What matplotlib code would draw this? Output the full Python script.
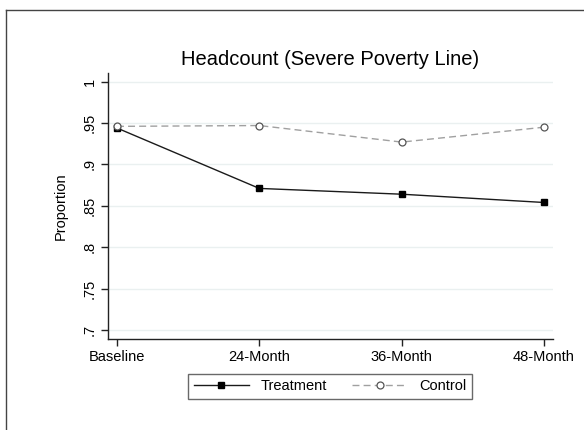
import matplotlib
matplotlib.use("Agg")
import matplotlib.pyplot as plt
from matplotlib.lines import Line2D

plt.rcParams['font.family'] = ['Liberation Sans', 'DejaVu Sans']

categories = ["Baseline", "24-Month", "36-Month", "48-Month"]
treatment = [0.944, 0.871, 0.864, 0.854]
control = [0.946, 0.947, 0.927, 0.945]
yticks = [0.7, 0.75, 0.8, 0.85, 0.9, 0.95, 1.0]
ytick_labels = [".7", ".75", ".8", ".85", ".9", ".95", "1"]
title = "Headcount (Severe Poverty Line)"

fig = plt.figure(figsize=(5.84, 4.30), dpi=100)
ax = fig.add_axes([108/584, 1-339/430, (553-108)/584, (339-73)/430])

x = list(range(len(categories)))
ax.plot(x, treatment, color='#1a1a1a', lw=1.0, marker='s', ms=5,
        mfc='black', mec='black', label='Treatment', zorder=3)
ax.plot(x, control, color='#a0a0a0', lw=1.0, ls=(0, (5, 3)), marker='o', ms=5,
        mfc='white', mec='#555555', mew=0.9, label='Control', zorder=3)

ax.set_xlim(-0.063, 3.063)
ax.set_ylim(0.689, 1.0105)
ax.set_xticks(x)
ax.set_xticklabels(categories, fontsize=10.5)
ax.set_yticks(yticks)
ax.set_yticklabels(ytick_labels, fontsize=10.5, rotation=90, va='center')
ax.set_ylabel("Proportion", fontsize=10.5, labelpad=11)
ax.set_title(title, fontsize=14.5, pad=6)

ax.grid(axis='y', color='#eaf0f0', lw=1.0)
ax.set_axisbelow(True)
for s in ['top', 'right']:
    ax.spines[s].set_visible(False)
for s in ['left', 'bottom']:
    ax.spines[s].set_color('#222222')
    ax.spines[s].set_linewidth(1.0)
ax.tick_params(direction='out', length=5, width=1, color='#222222', pad=3)

leg = fig.legend(loc='center', bbox_to_anchor=(330/584, 1-386.5/430), ncol=2,
                 fontsize=10.5, frameon=True, fancybox=False, handlelength=3.8,
                 columnspacing=1.7, borderpad=0.4, handletextpad=0.8)
leg.get_frame().set_edgecolor('#444444')
leg.get_frame().set_linewidth(1.0)

# outer frame lines (left and top)
fig.add_artist(Line2D([6/584, 6/584], [0, 1-10/430], transform=fig.transFigure,
                      color='#444444', lw=1.0))
fig.add_artist(Line2D([6/584, 1], [1-10/430, 1-10/430], transform=fig.transFigure,
                      color='#444444', lw=1.0))

fig.savefig("out.png", dpi=100)
